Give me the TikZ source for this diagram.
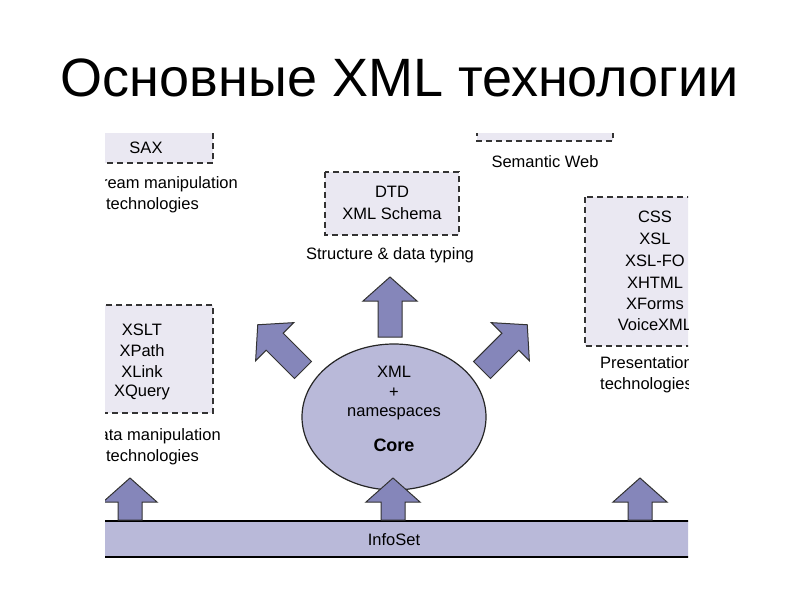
\documentclass[tikz,border=0pt]{standalone}
\usepackage{fontspec}
\setmainfont{Liberation Sans}
\usetikzlibrary{shapes.geometric}
\begin{document}
\begin{tikzpicture}[x=1pt,y=-1pt,
  box/.style={draw=black!80,dashed,line width=1.6pt,dash pattern=on 6pt off 4pt,fill=boxc},
  txt/.style={font=\fontsize{16.5}{19}\selectfont,inner sep=0pt},
  fat/.style={draw=black!80,line width=1pt,fill=arrc}]
\definecolor{boxc}{HTML}{EAE8F2}
\definecolor{arrc}{HTML}{8586BA}
\definecolor{corec}{HTML}{B9B9D9}
\useasboundingbox (0,0) rectangle (800,600);
\fill[white] (0,0) rectangle (800,600);
\node[font=\fontsize{54}{58}\selectfont] (title) at (400,78) {Основные XML технологии};
\begin{scope}
\clip (105,133) rectangle (688,562);
% boxes
\draw[box] (60,100) rectangle (213,163);
\node[txt] (sax) at (146,148) {SAX};
\node[txt,anchor=east] (sm1) at (238,184) {Stream manipulation};
\node[txt,anchor=east] (sm2) at (199,205) {technologies};
\draw[box] (477,100) rectangle (613,141);
\node[txt] (sw) at (545,162) {Semantic Web};
\draw[box] (325,172) rectangle (459,235);
\node[txt] (dtd) at (392,192) {DTD};
\node[txt] (xs) at (392,214) {XML Schema};
\node[txt] (sdt) at (390,255) {Structure \& data typing};
\draw[box] (585,197) rectangle (740,346);
\foreach \t/\y in {CSS/217,XSL/239,XSL-FO/261,XHTML/283,XForms/304,VoiceXML/325}
  \node[txt] at (655,\y) {\t};
\node[txt,anchor=west] (pt1) at (600,363) {Presentation};
\node[txt,anchor=west] (pt2) at (600,385) {technologies};
\draw[box] (60,305) rectangle (213,413);
\node[txt] (xslt) at (142,330) {XSLT};
\node[txt] (xpath) at (142,351) {XPath};
\node[txt] (xlink) at (142,372) {XLink};
\node[txt] (xq) at (142,392) {XQuery};
\node[txt,anchor=east] (dm1) at (221,436) {Data manipulation};
\node[txt,anchor=east] (dm2) at (199,457) {technologies};
% core
\node[draw=black!85,line width=1.2pt,fill=corec,ellipse,minimum width=184,minimum height=146,inner sep=0pt] (core) at (394,417) {};
\node[txt] at (394,372) {XML};
\node[txt] at (394,393) {+};
\node[txt] at (394,414) {namespaces};
\node[txt,font=\fontsize{18}{20}\selectfont\bfseries] at (394,445) {Core};
% infoset
\fill[corec] (100,521) rectangle (700,557);
\draw[line width=2.5pt] (100,521) -- (700,521) (100,557) -- (700,557);
\node[txt] (info) at (394,540) {InfoSet};
% fat arrows
\foreach \x/\y/\r/\L in {130/520/0/42,393/520/0/42,640/520/0/42,390/337/0/60,303/370/45/64,482/370/-45/64}
  \draw[fat,shift={(\x,\y)},rotate=\r] (-12,0) -- (-12,-\L+24) -- (-27,-\L+24) -- (0,-\L) -- (27,-\L+24) -- (12,-\L+24) -- (12,0) -- cycle;
\end{scope}
\end{tikzpicture}
\end{document}
